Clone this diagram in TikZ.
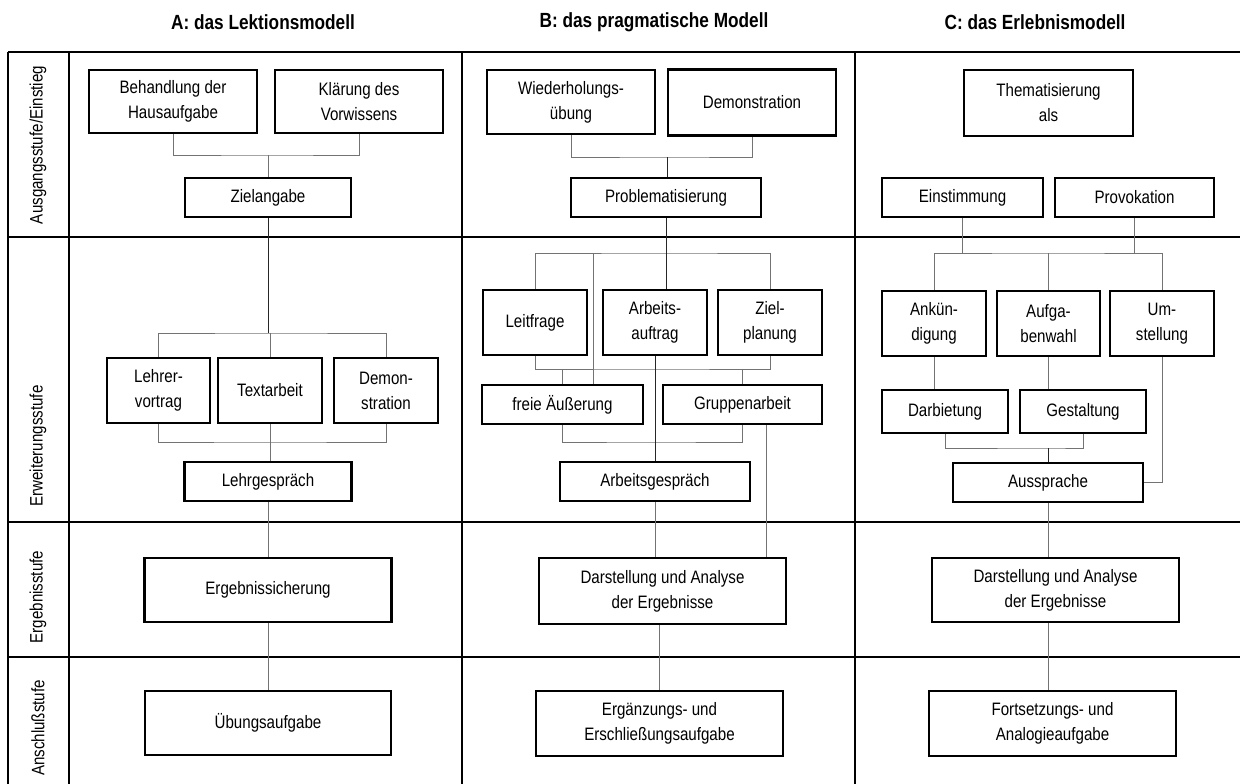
\documentclass[tikz,border=0pt]{standalone}
\usepackage{fontspec}
\setmainfont{Liberation Sans}[FakeStretch=0.84]
\usepackage{tikz}

\begin{document}
\begin{tikzpicture} [x=1pt, y=-1pt,
	kasten/.style={draw, line width=2.5pt, align=center, inner sep=2pt, font=\fontsize{18}{25}\selectfont},
	linie/.style={draw=black!55, line width=0.9pt},
	haupt/.style={draw=black!85, line width=0.9pt},
	rahmen/.style={line width=2.5pt},
	stufe/.style={rotate=90, font=\fontsize{18}{22}\selectfont},
	titel/.style={font=\fontsize{20.5}{24}\selectfont\bfseries}]
	\useasboundingbox (0,0) rectangle (1240,784);

	% Raster
	\foreach \y in {52,237,522,657}
		\draw[rahmen] (8,\y) -- (1240,\y);
	\foreach \x in {8,69,462,855}
		\draw[rahmen] (\x,52) -- (\x,784);

	\node[titel] (tA) at (263,22) {A: das Lektionsmodell};
	\node[titel] (tB) at (654,22) {B: das pragmatische Modell};
	\node[titel] (tC) at (1035,22) {C: das Erlebnismodell};

	\node[stufe] (s1) at (38,145) {Ausgangsstufe/Einstieg};
	\node[stufe] (s2) at (38,446) {Erweiterungsstufe};
	\node[stufe] (s3) at (38,597) {Ergebnisstufe};
	\node[stufe] (s4) at (38,728) {Anschlußstufe};

	% A
	\node[kasten, minimum width=168pt, minimum height=63pt] (behA) at (173,101.5) {Behandlung der\\Hausaufgabe};
	\node[kasten, minimum width=168pt, minimum height=63pt] (klaA) at (359,101.5) {Klärung des\\Vorwissens};
	\node[kasten, minimum width=166pt, minimum height=39pt] (zielA) at (268,197.5) {Zielangabe};
	\node[kasten, minimum width=103pt, minimum height=65pt] (lehA) at (158.5,390.5) {Lehrer-\\vortrag};
	\node[kasten, minimum width=104pt, minimum height=65pt] (texA) at (270,390.5) {Textarbeit};
	\node[kasten, minimum width=104pt, minimum height=65pt] (demA) at (386,390.5) {Demon-\\stration};
	\node[kasten, minimum width=167pt, minimum height=39pt] (gesA) at (268,481.5) {Lehrgespräch};
	\node[kasten, minimum width=247pt, minimum height=64pt] (ergA) at (268,590) {Ergebnissicherung};
	\node[kasten, minimum width=246pt, minimum height=64pt] (uebA) at (268,723) {Übungsaufgabe};

	\coordinate (kA1) at (268,155);
	\draw[linie] (behA.south) |- (kA1) -| (klaA.south);
	\draw[linie] (kA1) -- (zielA.north);
	\coordinate (kA2) at (270,333);
	\draw[haupt] (zielA.south) -- (zielA.south |- kA2);
	\draw[linie] (lehA.north) |- (kA2) -| (demA.north);
	\draw[linie] (kA2) -- (texA.north);
	\coordinate (kA3) at (268,442);
	\draw[linie] (lehA.south) |- (kA3) -| (demA.south);
	\draw[linie] (texA.south) -- (texA.south |- gesA.north);
	\draw[linie] (gesA.south) -- (ergA.north);
	\draw[linie] (ergA.south) -- (uebA.north);

	% B
	\node[kasten, minimum width=168pt, minimum height=64pt] (wieB) at (571,102) {Wiederholungs-\\übung};
	\node[kasten, minimum width=168pt, minimum height=66pt] (demB) at (752,102.5) {Demonstration};
	\node[kasten, minimum width=190pt, minimum height=39pt] (proB) at (666,197.5) {Problematisierung};
	\node[kasten, minimum width=104pt, minimum height=65pt] (leiB) at (535,322.5) {Leitfrage};
	\node[kasten, minimum width=104pt, minimum height=65pt] (arbB) at (655,322.5) {Arbeits-\\auftrag};
	\node[kasten, minimum width=104pt, minimum height=65pt] (zieB) at (770,322.5) {Ziel-\\planung};
	\node[kasten, minimum width=161pt, minimum height=39pt] (freB) at (562.5,404.5) {freie Äußerung};
	\node[kasten, minimum width=159pt, minimum height=39pt] (gruB) at (742.5,404.5) {Gruppenarbeit};
	\node[kasten, minimum width=190pt, minimum height=39pt] (agsB) at (655,481.5) {Arbeitsgespräch};
	\node[kasten, minimum width=247pt, minimum height=66pt] (darB) at (662.5,591) {Darstellung und Analyse\\der Ergebnisse};
	\node[kasten, minimum width=247pt, minimum height=65pt] (ergB) at (659.5,723.5) {Ergänzungs- und\\Erschließungsaufgabe};

	\coordinate (kB1) at (667,157);
	\draw[linie] (wieB.south) |- (kB1) -| (demB.south);
	\draw[haupt] (kB1) -- (kB1 |- proB.north);
	\coordinate (kB2) at (666,253);
	\draw[linie] (leiB.north) |- (kB2) -| (zieB.north);
	\draw[haupt] (proB.south) -- (proB.south |- arbB.north);
	\coordinate (kB3) at (593,253);
	\draw[linie] (kB3) -- (kB3 |- freB.north);
	\coordinate (kB4) at (650,369);
	\draw[linie] (leiB.south) |- (kB4) -| (zieB.south);
	\draw[linie] (freB.north) -- (freB.north |- kB4);
	\draw[linie] (gruB.north) -- (gruB.north |- kB4);
	\coordinate (kB5) at (650,442);
	\draw[linie] (freB.south) |- (kB5) -| (gruB.south);
	\draw[haupt] (arbB.south) -- (arbB.south |- agsB.north);
	\coordinate (kB6) at ([xshift=24pt]gruB.south);
	\draw[linie] (kB6) -- (kB6 |- darB.north);
	\draw[linie] (agsB.south) -- (agsB.south |- darB.north);
	\draw[linie] (ergB.north) -- (ergB.north |- darB.south);

	% C
	\node[kasten, minimum width=169pt, minimum height=66pt] (thmC) at (1048.5,103) {Thematisierung\\als};
	\node[kasten, minimum width=161pt, minimum height=39pt] (einC) at (962.5,197.5) {Einstimmung};
	\node[kasten, minimum width=159pt, minimum height=39pt] (proC) at (1134.5,197.5) {Provokation};
	\node[kasten, minimum width=104pt, minimum height=65pt] (ankC) at (934,323.5) {Ankün-\\digung};
	\node[kasten, minimum width=103pt, minimum height=65pt] (aufC) at (1048.5,323.5) {Aufga-\\benwahl};
	\node[kasten, minimum width=104pt, minimum height=65pt] (umsC) at (1162,323.5) {Um-\\stellung};
	\node[kasten, minimum width=126pt, minimum height=43pt] (darbC) at (945,411.5) {Darbietung};
	\node[kasten, minimum width=126pt, minimum height=43pt] (gesC) at (1083,411.5) {Gestaltung};
	\node[kasten, minimum width=190pt, minimum height=39pt] (ausC) at (1048,482.5) {Aussprache};
	\node[kasten, minimum width=247pt, minimum height=64pt] (darC) at (1055.5,590) {Darstellung und Analyse\\der Ergebnisse};
	\node[kasten, minimum width=247pt, minimum height=65pt] (forC) at (1052.5,723.5) {Fortsetzungs- und\\Analogieaufgabe};

	\coordinate (kC1) at (1048,253);
	\draw[linie] (einC.south) -- (einC.south |- kC1);
	\draw[linie] (proC.south) -- (proC.south |- kC1);
	\draw[linie] (ankC.north) |- (kC1) -| (umsC.north);
	\draw[linie] (aufC.north) -- (aufC.north |- kC1);
	\draw[linie] (ankC.south) -- (ankC.south |- darbC.north);
	\draw[linie] (aufC.south) -- (aufC.south |- gesC.north);
	\draw[linie] (umsC.south) |- (ausC.east);
	\coordinate (kC2) at (1048,448);
	\draw[linie] (darbC.south) |- (kC2) -| (gesC.south);
	\draw[haupt] (kC2) -- (kC2 |- ausC.north);
	\draw[linie] (ausC.south) -- (ausC.south |- darC.north);
	\draw[linie] (ausC.south |- darC.south) -- (ausC.south |- forC.north);
\end{tikzpicture}
\end{document}
